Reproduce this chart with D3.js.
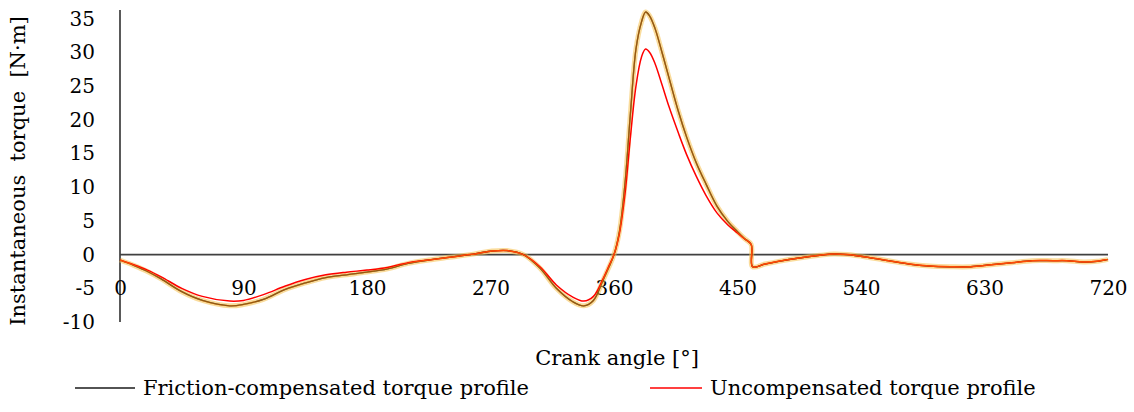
<!DOCTYPE html>
<html>
<head>
<meta charset="utf-8">
<script src="https://cdn.jsdelivr.net/npm/d3@7"></script>
<style>
  body { margin: 0; background: #fff; }
  svg { display: block; font-family: "DejaVu Serif", serif; }
</style>
</head>
<body>
<svg id="chart" width="1134" height="412"></svg>
<script>
// crank angle samples [deg], shared by both series
var angles = [0, 10, 20, 30, 45, 60, 80, 90, 105, 120, 135, 150, 165, 180, 195, 210, 225, 240, 255, 270,
	282, 294, 306, 318, 330, 338, 345, 352, 356, 360, 364, 368, 372, 376, 380, 383, 386, 390, 395, 400,
	407, 413, 420, 427, 435, 443, 450, 455, 460, 461, 470, 480, 495, 510, 520, 530, 545, 560, 575, 590,
	605, 620, 635, 650, 665, 680, 690, 702, 712, 720];

// friction-compensated torque [N·m]
var compensated = [-0.8, -1.6, -2.5, -3.6, -5.5, -6.8, -7.6, -7.4, -6.6, -5.2, -4.2, -3.4, -3.0, -2.6, -2.1, -1.3, -0.8, -0.4, 0.0, 0.5,
	0.6, 0.0, -2.0, -5.0, -7.0, -7.6, -6.8, -3.8, -2.0, 0.0, 3.5, 10.5, 21.0, 30.5, 34.5, 36.0, 35.4, 33.5, 30.0, 26.3,
	21.2, 17.4, 13.6, 10.5, 7.2, 4.9, 3.4, 2.4, 1.5, -1.8, -1.4, -1.0, -0.5, -0.1, 0.1, 0.0, -0.4, -0.9, -1.4, -1.7,
	-1.8, -1.8, -1.5, -1.2, -0.9, -0.9, -0.9, -1.1, -1.0, -0.7];

// uncompensated torque [N·m]
var uncompensated = [-0.8, -1.5, -2.3, -3.3, -5.0, -6.2, -6.9, -6.8, -5.9, -4.7, -3.7, -3.0, -2.6, -2.3, -1.9, -1.2, -0.8, -0.4, 0.0, 0.5,
	0.6, 0.0, -1.8, -4.5, -6.3, -6.9, -6.2, -3.6, -1.8, 0.0, 3.2, 9.0, 17.5, 25.0, 29.3, 30.5, 30.0, 28.3, 25.2, 22.0,
	18.0, 14.8, 11.6, 8.8, 6.2, 4.4, 3.2, 2.35, 1.5, -1.8, -1.4, -1.0, -0.5, -0.1, 0.1, 0.0, -0.4, -0.9, -1.4, -1.7,
	-1.8, -1.8, -1.5, -1.2, -0.9, -0.9, -0.9, -1.1, -1.0, -0.7];

var xTicks = [0, 90, 180, 270, 360, 450, 540, 630, 720];
var yTicks = [-10, -5, 0, 5, 10, 15, 20, 25, 30, 35];

var seriesNames = ["Friction-compensated torque profile", "Uncompensated torque profile"];

var svg = d3.select("#chart");

var x = d3.scaleLinear().domain([0, 720]).range([120, 1108]),
	y = d3.scaleLinear().domain([-10, 36.3]).range([322, 10]);

// --- AXES --- //
// plain hyphen for negatives, like the original
var plainFormat = function(d) { return String(d); };

var yAxis = svg.append("g")
	.attr("transform", "translate(" + x(0) + ",0)")
	.call(d3.axisLeft(y).tickValues(yTicks).tickSize(0).tickPadding(25).tickFormat(plainFormat));
yAxis.select(".domain").remove();
yAxis.selectAll("text").attr("font-size", 20).attr("fill", "#000").attr("font-family", "DejaVu Serif");

var xAxis = svg.append("g")
	.attr("transform", "translate(0," + y(-5) + ")")
	.call(d3.axisBottom(x).tickValues(xTicks).tickSize(0).tickPadding(0).tickFormat(plainFormat));
xAxis.select(".domain").remove();
xAxis.selectAll("text").attr("font-size", 20).attr("fill", "#000").attr("dy", "0.32em")
	.attr("font-family", "DejaVu Serif");

// vertical axis line
svg.append("line")
	.attr("x1", x(0)).attr("x2", x(0))
	.attr("y1", y(36.3)).attr("y2", y(-10))
	.attr("stroke", "#000").attr("stroke-width", 1.3);

// zero line
svg.append("line")
	.attr("x1", x(0)).attr("x2", x(720))
	.attr("y1", y(0)).attr("y2", y(0))
	.attr("stroke", "#404040").attr("stroke-width", 1.8);

// --- CURVES --- //
function seriesPoints(values) {
	return angles.map(function(a, i) { return [a, values[i]]; });
}
var line = d3.line()
	.x(function(d) { return x(d[0]); })
	.y(function(d) { return y(d[1]); })
	.curve(d3.curveCatmullRom.alpha(0.5));

var plot = svg.append("g").attr("fill", "none").attr("stroke-linejoin", "round");

// glow behind the compensated curve
plot.append("path").attr("d", line(seriesPoints(compensated)))
	.attr("stroke", "#f5c04a").attr("stroke-opacity", 0.55).attr("stroke-width", 5);
plot.append("path").attr("d", line(seriesPoints(compensated)))
	.attr("stroke", "#1a1a1a").attr("stroke-width", 1.3);
plot.append("path").attr("d", line(seriesPoints(uncompensated)))
	.attr("stroke", "#ff0000").attr("stroke-width", 1.5);
plot.append("path").attr("d", line(seriesPoints(compensated)))
	.attr("stroke", "#ff8a00").attr("stroke-opacity", 0.55).attr("stroke-width", 1.5);

// --- TITLES --- //
svg.append("text")
	.attr("x", 617).attr("y", 358).attr("dy", "0.35em")
	.attr("text-anchor", "middle").attr("font-size", 21)
	.text("Crank angle [°]");

svg.append("text")
	.attr("transform", "translate(18,171) rotate(-90)")
	.attr("dy", "0.35em")
	.attr("text-anchor", "middle").attr("font-size", 21)
	.style("white-space", "pre")
	.text("Instantaneous  torque  [N·m]");

// --- LEGEND --- //
var legend = [
	{ name: seriesNames[0], color: "#1a1a1a", x1: 75, x2: 135, tx: 143 },
	{ name: seriesNames[1], color: "#ff0000", x1: 650, x2: 702, tx: 710 }
];
var lg = svg.selectAll(".legend").data(legend).enter().append("g").attr("class", "legend");
lg.append("line")
	.attr("x1", function(d) { return d.x1; }).attr("x2", function(d) { return d.x2; })
	.attr("y1", 388).attr("y2", 388)
	.attr("stroke", function(d) { return d.color; }).attr("stroke-width", 1.5);
lg.append("text")
	.attr("x", function(d) { return d.tx; }).attr("y", 388).attr("dy", "0.35em")
	.attr("font-size", 21)
	.text(function(d) { return d.name; });
</script>
</body>
</html>
